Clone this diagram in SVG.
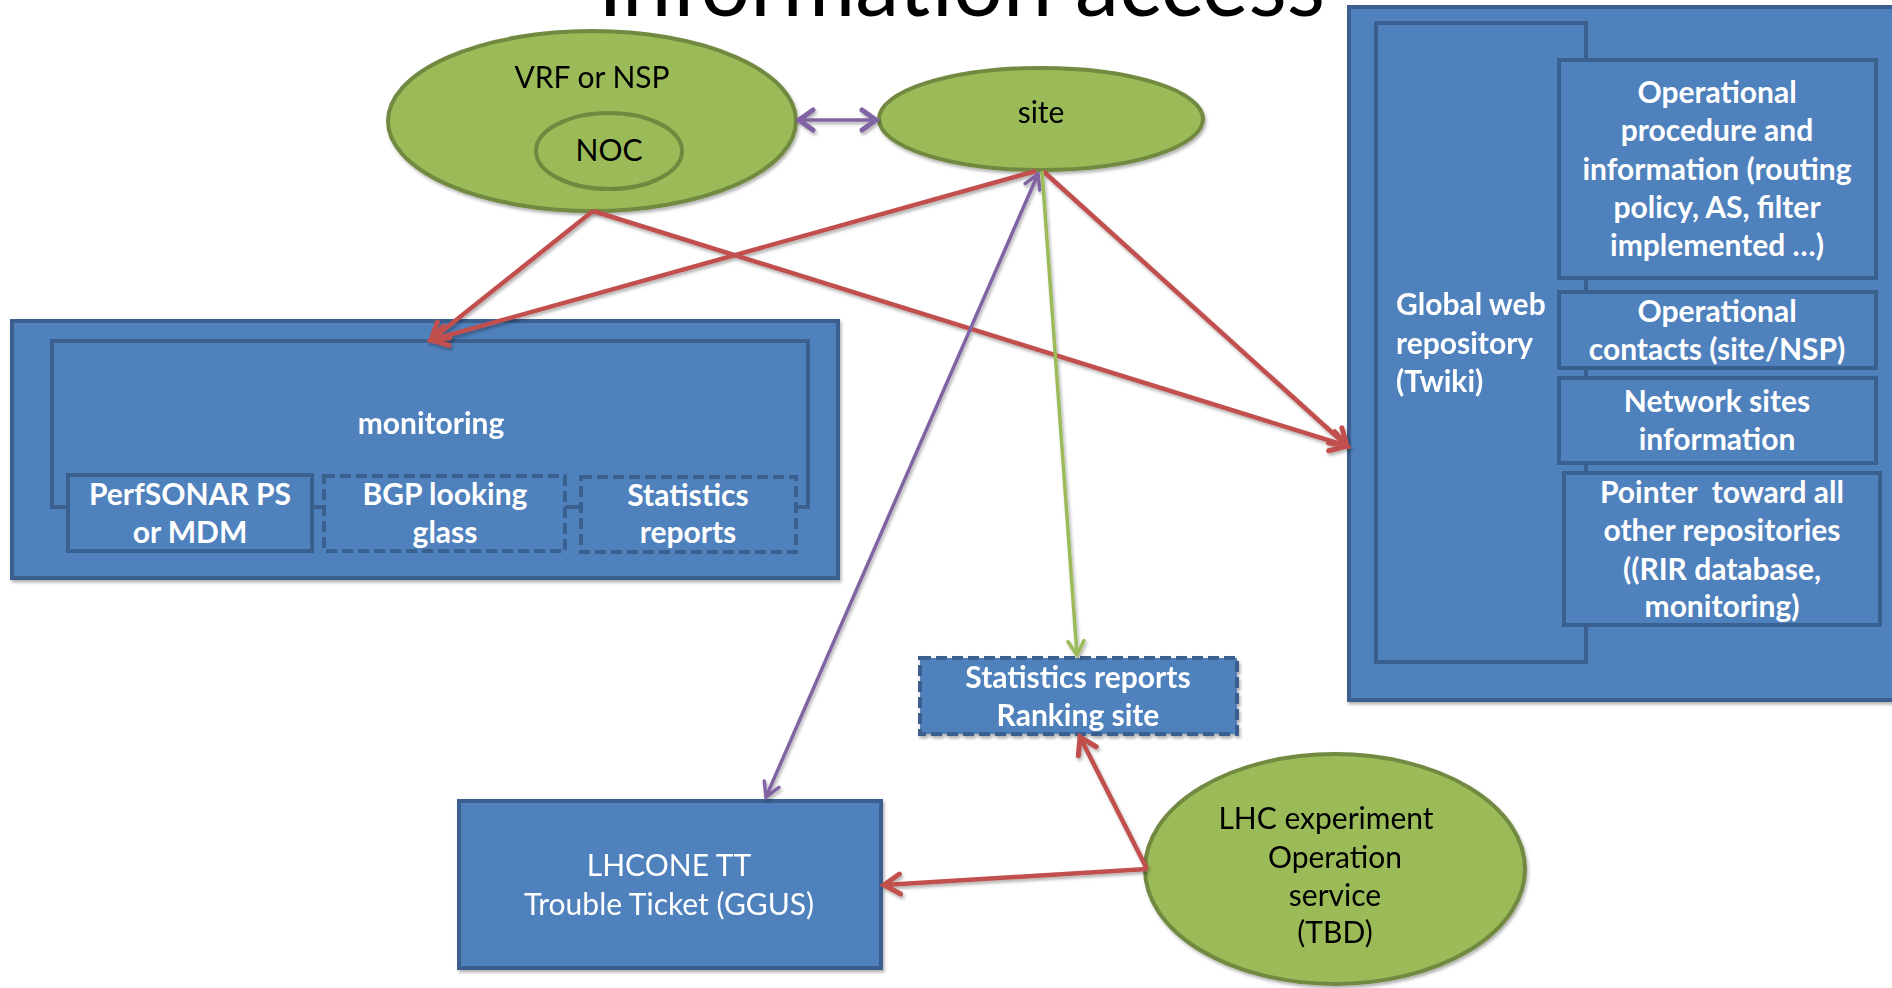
<svg xmlns="http://www.w3.org/2000/svg" width="1892" height="988" viewBox="0 0 1892 988">
  <defs>
    <style>
      .box{fill:#4f81bd;stroke:#3a6090;stroke-width:4}
      .dash{stroke-dasharray:11 5}
      .oval{fill:#9bbb59;stroke:#71893f;stroke-width:4}
      .w{font-family:Lato,"Liberation Sans",sans-serif;font-size:30px;font-weight:bold;fill:#ffffff;text-anchor:middle;white-space:pre}
      .ws{text-anchor:start}
      .wr{font-family:Lato,"Liberation Sans",sans-serif;font-size:30px;fill:#ffffff;text-anchor:middle}
      .k{font-family:Lato,"Liberation Sans",sans-serif;font-size:30px;fill:#000000;text-anchor:middle}
      .title{font-family:Lato,"Liberation Sans",sans-serif;font-size:92px;fill:#000000}
      .red{stroke:#c0504d;stroke-width:4.5;fill:none}
      .pur{stroke:#8064a2;stroke-width:3.5;fill:none}
      .grn{stroke:#9bbb59;stroke-width:3.5;fill:none}
    </style>
    <filter id="sh" x="-20%" y="-20%" width="140%" height="140%">
      <feDropShadow dx="1.5" dy="2.5" stdDeviation="1.5" flood-color="#000" flood-opacity="0.3"/>
    </filter>
    <marker id="aRed" viewBox="0 0 20 20" refX="18" refY="10" markerWidth="20" markerHeight="20" markerUnits="userSpaceOnUse" orient="auto" overflow="visible">
      <path d="M2,0 L18,10 L2,20" fill="none" stroke="#c0504d" stroke-width="5" stroke-linecap="round"/>
    </marker>
    <marker id="aPur" viewBox="0 0 20 20" refX="18" refY="10" markerWidth="20" markerHeight="20" markerUnits="userSpaceOnUse" orient="auto-start-reverse" overflow="visible">
      <path d="M4,2 L18,10 L4,18" fill="none" stroke="#8064a2" stroke-width="3.5" stroke-linecap="round"/>
    </marker>
    <marker id="aPurB" viewBox="0 0 20 20" refX="18" refY="10" markerWidth="20" markerHeight="20" markerUnits="userSpaceOnUse" orient="auto-start-reverse" overflow="visible">
      <path d="M4,0 L18,10 L4,20" fill="none" stroke="#8064a2" stroke-width="5" stroke-linecap="round"/>
    </marker>
    <marker id="aGrn" viewBox="0 0 20 20" refX="18" refY="10" markerWidth="20" markerHeight="20" markerUnits="userSpaceOnUse" orient="auto" overflow="visible">
      <path d="M4,2 L18,10 L4,18" fill="none" stroke="#9bbb59" stroke-width="3.5" stroke-linecap="round"/>
    </marker>
  </defs>

  <rect width="1892" height="988" fill="#ffffff"/>

  <!-- slide title, cut by the top edge -->
  <text class="title" x="598" y="16" textLength="727" lengthAdjust="spacingAndGlyphs">Information access</text>

  <!-- monitoring block -->
  <g id="monitoring" filter="url(#sh)">
    <rect class="box" x="12" y="321" width="826" height="257"/>
    <rect class="box" x="52" y="341" width="756" height="166"/>
    <text class="w" x="431" y="434">monitoring</text>
  </g>
  <g id="perfsonar">
    <rect class="box" x="68" y="475" width="244" height="76"/>
    <text class="w" x="190" y="505">PerfSONAR PS</text>
    <text class="w" x="190" y="543">or MDM</text>
  </g>
  <g id="bgp">
    <rect class="box dash" x="324" y="476" width="241" height="75"/>
    <text class="w" x="445" y="505">BGP looking</text>
    <text class="w" x="445" y="543">glass</text>
  </g>
  <g id="stats-monitoring">
    <rect class="box dash" x="581" y="477" width="215" height="75"/>
    <text class="w" x="688" y="506">Statistics</text>
    <text class="w" x="688" y="543">reports</text>
  </g>

  <!-- global web repository -->
  <g id="repository" filter="url(#sh)">
    <rect class="box" x="1349" y="7" width="545" height="693"/>
    <rect class="box" x="1376" y="23" width="210" height="639"/>
    <text class="w ws" x="1396" y="315">Global web</text>
    <text class="w ws" x="1396" y="354">repository</text>
    <text class="w ws" x="1396" y="392">(Twiki)</text>
  </g>
  <g id="procedures">
    <rect class="box" x="1559" y="60" width="317" height="218"/>
    <text class="w" x="1717" y="103">Operational</text>
    <text class="w" x="1717" y="141">procedure and</text>
    <text class="w" x="1717" y="180">information (routing</text>
    <text class="w" x="1717" y="218">policy, AS, filter</text>
    <text class="w" x="1717" y="256">implemented …)</text>
  </g>
  <g id="contacts">
    <rect class="box" x="1559" y="292" width="317" height="76"/>
    <text class="w" x="1717" y="322">Operational</text>
    <text class="w" x="1717" y="360">contacts (site/NSP)</text>
  </g>
  <g id="sites-info">
    <rect class="box" x="1559" y="378" width="317" height="85"/>
    <text class="w" x="1717" y="412">Network sites</text>
    <text class="w" x="1717" y="450">information</text>
  </g>
  <g id="pointer">
    <rect class="box" x="1564" y="473" width="316" height="152"/>
    <text class="w" x="1722" y="503" xml:space="preserve">Pointer  toward all</text>
    <text class="w" x="1722" y="541">other repositories</text>
    <text class="w" x="1722" y="580">((RIR database,</text>
    <text class="w" x="1722" y="617">monitoring)</text>
  </g>

  <!-- ranking statistics -->
  <g id="ranking" filter="url(#sh)">
    <rect class="box dash" x="920" y="658" width="317" height="76"/>
    <text class="w" x="1078" y="688">Statistics reports</text>
    <text class="w" x="1078" y="726">Ranking site</text>
  </g>

  <!-- trouble ticket -->
  <g id="trouble-ticket" filter="url(#sh)">
    <rect class="box" x="459" y="801" width="422" height="167"/>
    <text class="wr" x="669" y="876">LHCONE TT</text>
    <text class="wr" x="669" y="915">Trouble Ticket (GGUS)</text>
  </g>

  <!-- green actors -->
  <g id="vrf-nsp" filter="url(#sh)">
    <ellipse class="oval" cx="592" cy="121" rx="204" ry="90"/>
    <text class="k" x="592" y="88">VRF or NSP</text>
  </g>
  <g id="noc">
    <ellipse class="oval" cx="609" cy="151" rx="73" ry="38"/>
    <text class="k" x="609" y="161">NOC</text>
  </g>
  <g id="site" filter="url(#sh)">
    <ellipse class="oval" cx="1041" cy="119" rx="162" ry="51"/>
    <text class="k" x="1041" y="123">site</text>
  </g>
  <g id="lhc-operation" filter="url(#sh)">
    <ellipse class="oval" cx="1335" cy="869" rx="190" ry="115"/>
    <text class="k" x="1326" y="829">LHC experiment</text>
    <text class="k" x="1335" y="868">Operation</text>
    <text class="k" x="1335" y="906">service</text>
    <text class="k" x="1335" y="943">(TBD)</text>
  </g>

  <!-- connectors -->
  <g id="connectors" filter="url(#sh)">
    <line class="pur" x1="799" y1="120" x2="876" y2="120" stroke-width="5" marker-start="url(#aPurB)" marker-end="url(#aPurB)"/>
    <line class="red" x1="593" y1="211" x2="431" y2="340" marker-end="url(#aRed)"/>
    <line class="red" x1="1036" y1="171" x2="431" y2="340" marker-end="url(#aRed)"/>
    <line class="red" x1="593" y1="211" x2="1347" y2="446" marker-end="url(#aRed)"/>
    <line class="red" x1="1043" y1="171" x2="1347" y2="446" marker-end="url(#aRed)"/>
    <line class="pur" x1="1038" y1="174" x2="766" y2="797" marker-start="url(#aPur)" marker-end="url(#aPur)"/>
    <line class="grn" x1="1042" y1="171" x2="1077" y2="655" marker-end="url(#aGrn)"/>
    <line class="red" x1="1147" y1="869" x2="1080" y2="737" marker-end="url(#aRed)"/>
    <line class="red" x1="1147" y1="869" x2="884" y2="885" marker-end="url(#aRed)"/>
  </g>
</svg>
